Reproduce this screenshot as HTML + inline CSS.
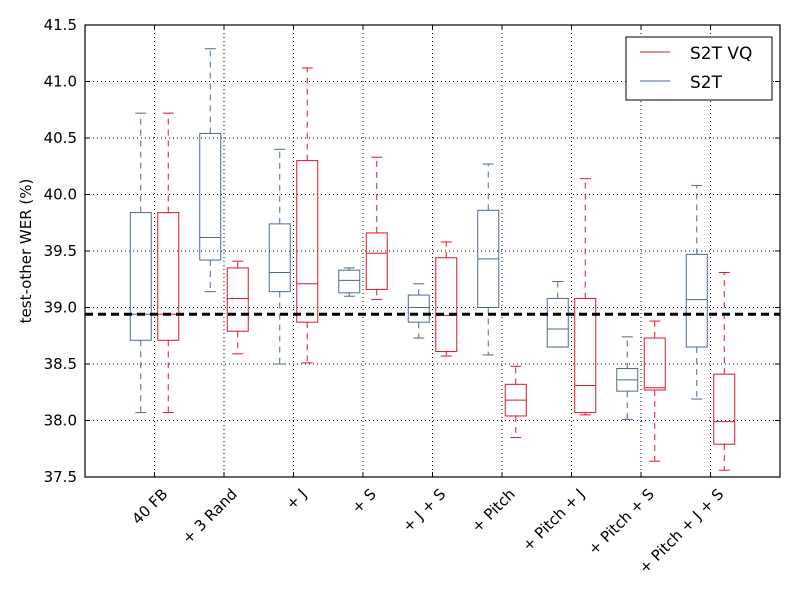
<!DOCTYPE html>
<html><head><meta charset="utf-8"><style>
body{margin:0;background:#fff;}
svg{font-family:"DejaVu Sans","Liberation Sans",sans-serif;}
</style></head><body>
<svg id="chart" width="800" height="600" xmlns="http://www.w3.org/2000/svg"></svg>
<script>
const categories=["40 FB","+ 3 Rand","+ J","+ S","+ J + S","+ Pitch","+ Pitch + J","+ Pitch + S","+ Pitch + J + S"];
// [whiskerLow, q1, median, q3, whiskerHigh]
const s2tStats=[[38.07,38.71,38.94,39.84,40.72],[39.14,39.42,39.62,40.54,41.29],[38.50,39.14,39.31,39.74,40.40],[39.10,39.13,39.24,39.33,39.35],[38.73,38.87,39.00,39.11,39.21],[38.58,39.00,39.43,39.86,40.27],[38.65,38.65,38.81,39.08,39.23],[38.01,38.26,38.36,38.46,38.74],[38.19,38.65,39.07,39.47,40.08]];
const s2tvqStats=[[38.07,38.71,38.94,39.84,40.72],[38.59,38.79,39.08,39.35,39.41],[38.51,38.87,39.21,40.30,41.12],[39.07,39.16,39.48,39.66,40.33],[38.57,38.61,38.93,39.44,39.58],[37.85,38.04,38.18,38.32,38.48],[38.05,38.07,38.31,39.08,40.14],[37.64,38.27,38.29,38.73,38.88],[37.56,37.79,37.99,38.41,39.31]];
const baseline=38.94;
const yTicks=[37.5,38.0,38.5,39.0,39.5,40.0,40.5,41.0,41.5];

const svg=document.getElementById('chart');
const NS='http://www.w3.org/2000/svg';
const L=85,R=780,T=25,B=477;
const yMin=37.5,yMax=41.5;
function y(v){return B-(v-yMin)/(yMax-yMin)*(B-T);}
function x(i){return L+(i+1)*(R-L)/(categories.length+1);}
function mk(tag,attrs,parent){const e=document.createElementNS(NS,tag);for(const k in attrs)e.setAttribute(k,attrs[k]);(parent||svg).appendChild(e);return e;}

const grid=mk('g',{});


yTicks.forEach(t=>{
  mk('line',{x1:L,x2:R,y1:y(t),y2:y(t),stroke:'#000','stroke-width':1,'stroke-dasharray':'1,3'},grid);
  mk('line',{x1:L,x2:L+5,y1:y(t),y2:y(t),stroke:'#000'},grid);
  mk('line',{x1:R-5,x2:R,y1:y(t),y2:y(t),stroke:'#000'},grid);
  const tx=mk('text',{x:L-8,y:y(t)+5,'text-anchor':'end','font-size':15,fill:'#000'});
  tx.textContent=t.toFixed(1);
  
  
});
categories.forEach((c,i)=>{
  const xx=x(i);
  mk('line',{x1:xx,x2:xx,y1:T,y2:B,stroke:'#000','stroke-width':1,'stroke-dasharray':'1,3'},grid);
  mk('line',{x1:xx,x2:xx,y1:B,y2:B-5,stroke:'#000'},grid);
  mk('line',{x1:xx,x2:xx,y1:T,y2:T+5,stroke:'#000'},grid);
  const ax=xx+14,ay=B+18;
  const tx=mk('text',{x:ax,y:ay,'text-anchor':'end','font-size':15,fill:'#000',transform:`rotate(-45 ${ax} ${ay})`});
  tx.textContent=c;
  
  
});

function box(st,cx,color,name){
  const g=mk('g',{});
  
  
  const w=21,cap=11;
  mk('line',{x1:cx,x2:cx,y1:y(st[3]),y2:y(st[4]),stroke:color,'stroke-dasharray':'6,5'},g);
  mk('line',{x1:cx,x2:cx,y1:y(st[1]),y2:y(st[0]),stroke:color,'stroke-dasharray':'6,5'},g);
  mk('line',{x1:cx-cap/2,x2:cx+cap/2,y1:y(st[4]),y2:y(st[4]),stroke:color},g);
  mk('line',{x1:cx-cap/2,x2:cx+cap/2,y1:y(st[0]),y2:y(st[0]),stroke:color},g);
  mk('rect',{x:cx-w/2,y:y(st[3]),width:w,height:y(st[1])-y(st[3]),fill:'none',stroke:color},g);
  mk('line',{x1:cx-w/2,x2:cx+w/2,y1:y(st[2]),y2:y(st[2]),stroke:color},g);
}
categories.forEach((c,i)=>{
  box(s2tStats[i],x(i)-13.75,'#4a6a8f','s2t-box');
  box(s2tvqStats[i],x(i)+13.75,'#e0142c','s2t-vq-box');
});

const bl=mk('line',{x1:L,x2:R,y1:y(baseline),y2:y(baseline),stroke:'#000','stroke-width':3,'stroke-dasharray':'8,5'});



const frame=mk('rect',{x:L,y:T,width:R-L,height:B-T,fill:'none',stroke:'#000','stroke-width':1.2});



const yt=mk('text',{x:31,y:(T+B)/2,'text-anchor':'middle','font-size':15,fill:'#000',transform:`rotate(-90 31 ${(T+B)/2})`});
yt.textContent='test-other WER (%)';



const lg=mk('g',{});


mk('rect',{x:626,y:37,width:146,height:63,fill:'#fff',stroke:'#000','stroke-width':1},lg);
mk('line',{x1:640,x2:670,y1:52,y2:52,stroke:'#e0142c'},lg);
mk('line',{x1:640,x2:670,y1:81,y2:81,stroke:'#4a6a8f'},lg);
const l1=mk('text',{x:690,y:59,'font-size':17,fill:'#000'},lg);l1.textContent='S2T VQ';


const l2=mk('text',{x:690,y:88,'font-size':17,fill:'#000'},lg);l2.textContent='S2T';


</script>
</body></html>
